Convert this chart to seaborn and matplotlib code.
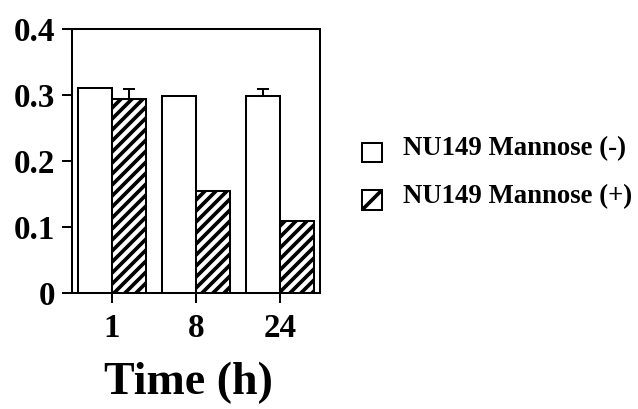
import matplotlib
matplotlib.use("Agg")
import matplotlib.pyplot as plt
import matplotlib.patches as mpatches
from matplotlib.legend_handler import HandlerPatch
import seaborn as sns
import pandas as pd
import numpy as np

# ---- data ----
times = ["1", "8", "24"]
series_names = ["NU149 Mannose (-)", "NU149 Mannose (+)"]
minus_vals = [0.311, 0.299, 0.299]
plus_vals = [0.294, 0.155, 0.109]
minus_err = [0.0, 0.0, 0.010]
plus_err = [0.015, 0.0, 0.0]
yticks = [0, 0.1, 0.2, 0.3, 0.4]
ytick_labels = ["0", "0.1", "0.2", "0.3", "0.4"]
xlabel = "Time (h)"

DPI = 132
sns.set_theme(style="ticks")
plt.rcParams["font.family"] = ["Liberation Serif", "DejaVu Serif"]
plt.rcParams["font.weight"] = "bold"
plt.rcParams["text.color"] = "black"
plt.rcParams["hatch.linewidth"] = 2.0
plt.rcParams["hatch.color"] = "black"

df = pd.DataFrame({
    "time": times * 2,
    "series": [series_names[0]] * 3 + [series_names[1]] * 3,
    "value": minus_vals + plus_vals,
})

fig = plt.figure(figsize=(638 / DPI, 409 / DPI), dpi=DPI)
ax = fig.add_axes([72 / 638, 1 - 293 / 409, (320 - 72) / 638, (293 - 29) / 409])

sns.barplot(data=df, x="time", y="value", hue="series", order=times,
            hue_order=series_names, palette=["white", "white"],
            edgecolor="black", linewidth=1.1, width=0.81, errorbar=None,
            saturation=1, legend=False, ax=ax)

bar_containers = list(ax.containers)
for patch in bar_containers[1]:
    patch.set_hatch("////")

errs = [minus_err, plus_err]
vals = [minus_vals, plus_vals]
for ci, cont in enumerate(bar_containers):
    for pi, patch in enumerate(cont):
        e = errs[ci][pi]
        if e > 0:
            xc = patch.get_x() + patch.get_width() / 2
            ax.errorbar([xc], [vals[ci][pi]], yerr=[[0], [e]], fmt="none",
                        ecolor="black", elinewidth=1.1, capsize=3.3,
                        capthick=1.1)

ax.set_ylim(0, 0.4)
ax.set_xlim(-0.476, 2.476)
ax.set_yticks(yticks)
ax.set_yticklabels(ytick_labels)
ax.set_ylabel("")
for s in ax.spines.values():
    s.set_linewidth(1.1)
    s.set_color("black")
ax.tick_params(axis="both", length=5.5, width=1.1, color="black",
               labelsize=18, labelcolor="black")
ax.tick_params(axis="y", pad=3.8)
ax.tick_params(axis="x", pad=5.5)
for lbl in ax.get_xticklabels() + ax.get_yticklabels():
    lbl.set_fontweight("bold")

ax.set_xlabel(xlabel, fontsize=25, fontweight="bold", color="black")
ax.xaxis.set_label_coords(0.468, -0.26)


def shifted_square(legend, orig_handle, xdescent, ydescent, width, height,
                   fontsize):
    return mpatches.Rectangle((-xdescent, -ydescent - 3.6), width, height)


handles = [
    mpatches.Patch(facecolor="white", edgecolor="black", linewidth=1.1,
                   label=series_names[0]),
    mpatches.Patch(facecolor="white", edgecolor="black", linewidth=1.1,
                   hatch="//", label=series_names[1]),
]
fig.legend(handles=handles, loc="upper left",
           bbox_to_anchor=(362 / 638, 1 - 136 / 409), frameon=False,
           prop={"family": "Liberation Serif", "weight": "bold", "size": 14.6},
           labelcolor="black",
           handler_map={mpatches.Patch: HandlerPatch(patch_func=shifted_square)},
           handlelength=0.75, handleheight=0.75, handletextpad=0.78,
           labelspacing=0.85, borderpad=0, borderaxespad=0)

fig.savefig("out.png", dpi=DPI)
